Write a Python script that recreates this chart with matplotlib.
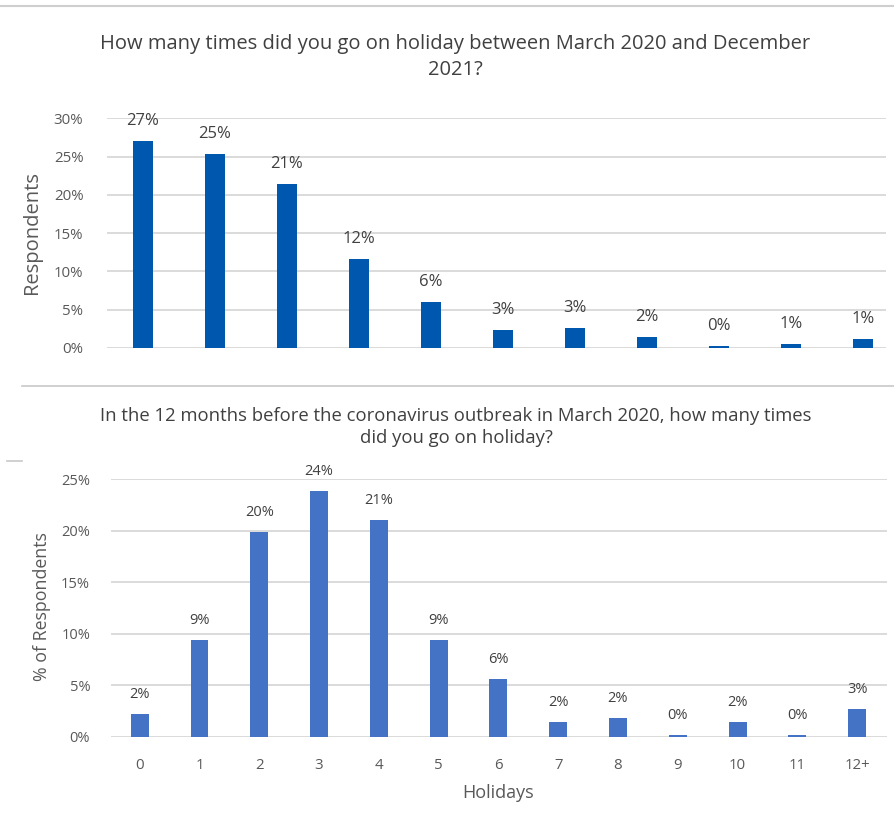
import numpy as np
from matplotlib import pyplot as plt
from matplotlib.lines import Line2D
from matplotlib.ticker import FuncFormatter

plt.rcParams["font.family"] = ["Open Sans", "DejaVu Sans"]

# top chart: March 2020 - December 2021
top_values = [27.0, 25.3, 21.4, 11.6, 6.0, 2.4, 2.65, 1.5, 0.3, 0.5, 1.2]
top_labels = ["27%", "25%", "21%", "12%", "6%", "3%", "3%", "2%", "0%", "1%", "1%"]
top_title = "How many times did you go on holiday between March 2020 and December\n2021?"

# bottom chart: 12 months before March 2020
bottom_categories = ["0", "1", "2", "3", "4", "5", "6", "7", "8", "9", "10", "11", "12+"]
bottom_values = [2.2, 9.4, 19.85, 23.9, 21.0, 9.4, 5.6, 1.4, 1.8, 0.2, 1.4, 0.15, 2.7]
bottom_labels = ["2%", "9%", "20%", "24%", "21%", "9%", "6%", "2%", "2%", "0%", "2%", "0%", "3%"]
bottom_title = ("In the 12 months before the coronavirus outbreak in March 2020, how many times\n"
                "did you go on holiday?")

W, H = 894, 826
GRID = "#d4d4d4"
TXT = "#404040"
TICK = "#595959"

fig = plt.figure(figsize=(W / 100, H / 100), dpi=100)
fig.patch.set_facecolor("white")


def px_axes(left, right, top, bottom):
    return fig.add_axes([left / W, 1 - bottom / H, (right - left) / W, (bottom - top) / H])


def style(ax):
    for s in ax.spines.values():
        s.set_visible(False)
    ax.yaxis.grid(True, color=GRID, linewidth=1.2)
    ax.set_axisbelow(True)
    ax.tick_params(axis="both", length=0)
    ax.yaxis.set_major_formatter(FuncFormatter(lambda v, _: f"{v:.0f}%"))


# ---- top chart
ax1 = px_axes(107, 886, 118.3, 348)
style(ax1)
x1 = np.arange(len(top_values))
ax1.bar(x1, top_values, width=0.29, color="#0058ae")
ax1.set_xlim(-0.5, 10.32)
ax1.set_ylim(0, 30)
ax1.set_yticks(np.arange(0, 31, 5))
ax1.set_xticks([])
ax1.tick_params(axis="y", pad=17, labelsize=10.8, labelcolor=TICK)
for xi, v, lab in zip(x1, top_values, top_labels):
    ax1.annotate(lab, (xi, v), xytext=(0, 16), textcoords="offset pixels",
                 ha="center", va="baseline", fontsize=12, color=TXT)
ax1.set_ylabel("Respondents", fontsize=14.5, color=TICK, va="center")
ax1.yaxis.set_label_coords(-0.096, 0.505)
fig.text(455 / W, 1 - 56.75 / H, top_title, ha="center", va="center",
         multialignment="center", fontsize=14.5, color=TXT, linespacing=1.4)

# ---- bottom chart
ax2 = px_axes(111, 887, 479.2, 736.7)
style(ax2)
x2 = np.arange(len(bottom_values))
ax2.bar(x2, bottom_values, width=0.3, color="#4472c4")
ax2.set_xlim(-0.48, 12.5)
ax2.set_ylim(0, 25)
ax2.set_yticks(np.arange(0, 26, 5))
ax2.set_xticks(x2)
ax2.set_xticklabels(bottom_categories)
ax2.tick_params(axis="y", pad=15, labelsize=10.5, labelcolor=TICK)
ax2.tick_params(axis="x", pad=15, labelsize=10.8, labelcolor=TICK)
for xi, v, lab in zip(x2, bottom_values, bottom_labels):
    ax2.annotate(lab, (xi, v), xytext=(0, 16), textcoords="offset pixels",
                 ha="center", va="baseline", fontsize=10.5, color=TXT)
ax2.set_ylabel("% of Respondents", fontsize=12.8, color=TICK, va="center")
ax2.yaxis.set_label_coords(-0.089, 0.504)
ax2.set_xlabel("Holidays", fontsize=13, color=TICK, va="center")
ax2.xaxis.set_label_coords((498 - 111) / 776, -(793 - 736.7) / 257.5)
fig.text(456 / W, 1 - 427 / H, bottom_title, ha="center", va="center",
         multialignment="center", fontsize=13.3, color=TXT, linespacing=1.3)

# frame lines of the original screenshot
fig.add_artist(Line2D([0, 1], [1 - 6 / H, 1 - 6 / H], color="#cfcfcf", linewidth=1.5))
fig.add_artist(Line2D([22 / W, 1], [1 - 386 / H, 1 - 386 / H], color="#c8c8c8", linewidth=1.2))
fig.add_artist(Line2D([7 / W, 22 / W], [1 - 461 / H, 1 - 461 / H], color="#c8c8c8", linewidth=1.2))

fig.savefig("out.png", dpi=100)
